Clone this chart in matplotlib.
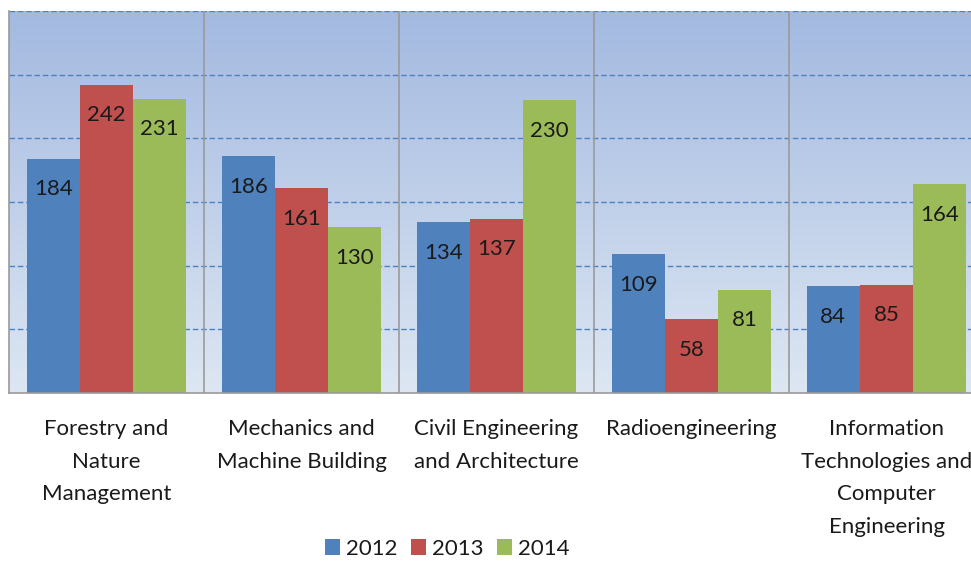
import numpy as np
import matplotlib
matplotlib.use("Agg")
import matplotlib.pyplot as plt
from matplotlib.colors import LinearSegmentedColormap

categories = ["Forestry and\nNature\nManagement",
              "Mechanics and\nMachine Building",
              "Civil Engineering\nand Architecture",
              "Radioengineering",
              "Information\nTechnologies and\nComputer\nEngineering"]
years = ["2012", "2013", "2014"]
v2012 = [184, 186, 134, 109, 84]
v2013 = [242, 161, 137, 58, 85]
v2014 = [231, 130, 230, 81, 164]
colors = ["#4F81BD", "#C0504D", "#9BBB59"]

plt.rcParams['font.family'] = ['Lato', 'DejaVu Sans']

W, H = 971, 561
fig = plt.figure(figsize=(W / 100, H / 100), dpi=100)
# plot area runs past the right edge, like the cropped original
ax = fig.add_axes([9 / W, (H - 393) / H, 975 / W, 382 / H])

n = len(categories)
x = np.arange(n)
bw = 0.273

# gradient background
grad = LinearSegmentedColormap.from_list("bg", ["#DDE7F3", "#A3B9E0"])
ax.imshow(np.linspace(0, 1, 256).reshape(-1, 1), cmap=grad, origin="lower",
          extent=[-0.5, n - 0.5, 0, 300], aspect="auto", zorder=0)

for yv in range(50, 301, 50):
    ax.axhline(yv, color="#4F81BD", lw=1.0, ls=(0, (4, 2)), zorder=1)
for xs in np.arange(0.5, n - 0.5, 1):
    ax.axvline(xs, color="#9A9A9A", lw=1.2, zorder=1)

for i, (vals, c) in enumerate(zip([v2012, v2013, v2014], colors)):
    bars = ax.bar(x + (i - 1) * bw, vals, bw, color=c, label=years[i], zorder=2)
    for b, v in zip(bars, vals):
        ax.annotate(str(v), (b.get_x() + b.get_width() / 2, v),
                    xytext=(0, -22), textcoords="offset points",
                    ha="center", va="center", fontsize=16, color="#1a1a1a", zorder=3)

ax.set_xlim(-0.5, n - 0.5)
ax.set_ylim(0, 300)
ax.set_yticks([])
ax.set_xticks(x)
ax.set_xticklabels(categories, fontsize=16, color="#1a1a1a", linespacing=1.78)
ax.tick_params(axis="x", length=0, pad=19)
for s in ["top", "right"]:
    ax.spines[s].set_visible(False)
for s in ["left", "bottom"]:
    ax.spines[s].set_color("#9A9A9A")
    ax.spines[s].set_linewidth(1.2)

fig.legend(loc="center", bbox_to_anchor=(447 / W, 12 / H), ncol=3, frameon=False,
           fontsize=16, handlelength=0.7, handleheight=0.7, handletextpad=0.25,
           columnspacing=0.6, labelcolor="#1a1a1a")

fig.savefig("out.png", dpi=100)
